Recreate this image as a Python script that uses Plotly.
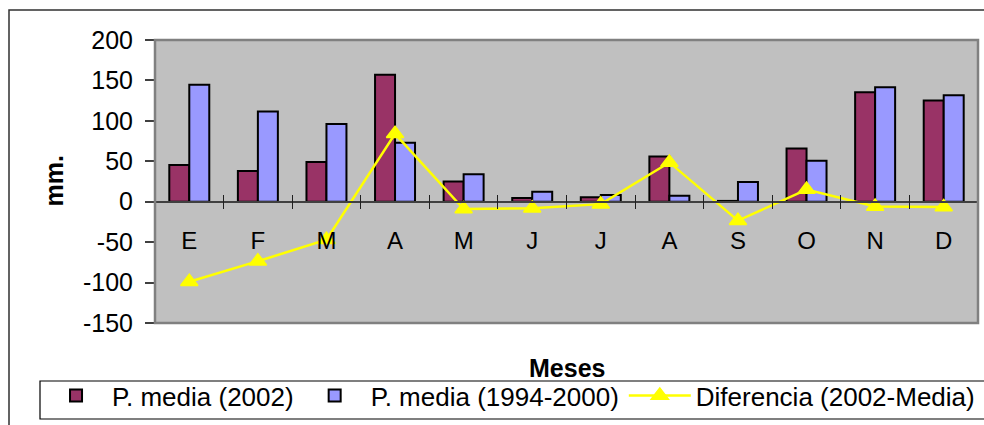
import plotly.graph_objects as go

# Monthly precipitation (mm)
meses = ["E", "F", "M", "A", "M", "J", "J", "A", "S", "O", "N", "D"]
p_2002 = [45.5, 38, 49, 157, 25, 4.5, 5.4, 56, 1, 65.7, 135.5, 125.2]
p_media = [144.6, 111.6, 96, 73, 34, 12.4, 8.3, 7.4, 24.4, 50.8, 141.7, 131.8]
diferencia = [-99, -73.6, -47, 84, -9, -8, -3, 48.6, -23.4, 15, -6, -6.6]

y_ticks = [-150, -100, -50, 0, 50, 100, 150, 200]
y_min, y_max = -150, 200

FONT = "Arial, Liberation Sans, sans-serif"
idx = list(range(len(meses)))
bounds = [i - 0.5 for i in range(len(meses) + 1)]
zero_pos = (0 - y_min) / (y_max - y_min)

fig = go.Figure()
fig.add_trace(go.Bar(
    x=idx, y=p_2002, name="P. media (2002)",
    marker=dict(color="#993366", line=dict(color="black", width=2)),
))
fig.add_trace(go.Bar(
    x=idx, y=p_media, name="P. media (1994-2000)",
    marker=dict(color="#9999FF", line=dict(color="black", width=2)),
))
fig.add_trace(go.Scatter(
    x=idx, y=diferencia, name="Diferencia (2002-Media)",
    mode="lines+markers",
    line=dict(color="#FFFF00", width=2.5),
    marker=dict(symbol="triangle-up", size=15, color="#FFFF00",
                line=dict(color="#FFFF00", width=1.5)),
))

xr = [-0.5, len(meses) - 0.5]
fig.update_layout(
    width=984, height=425,
    margin=dict(l=155, r=6, t=40, b=102, autoexpand=False),
    paper_bgcolor="white",
    plot_bgcolor="#C0C0C0",
    barmode="group", bargap=0.417, bargroupgap=0,
    font=dict(family=FONT, size=24, color="black"),
    showlegend=True,
    legend=dict(
        orientation="h", x=-0.1397, y=(323 - 372) / 283,
        xanchor="left", yanchor="top",
        borderwidth=0, bgcolor="rgba(0,0,0,0)",
        font=dict(family=FONT, size=26, color="black"),
        traceorder="normal", tracegroupgap=0, itemwidth=62,
    ),
    # zero line with category boundary ticks (downward part)
    xaxis=dict(
        range=xr, anchor="free", position=zero_pos,
        showline=True, linecolor="#404040", linewidth=1.5,
        tickmode="array", tickvals=bounds, showticklabels=False,
        ticks="outside", ticklen=7, tickcolor="#202020", tickwidth=1,
        showgrid=False, zeroline=False,
    ),
    # upward part of the boundary ticks
    xaxis2=dict(
        range=xr, overlaying="x", anchor="free", position=zero_pos,
        showline=False, tickmode="array", tickvals=bounds,
        showticklabels=False, ticks="inside", ticklen=7,
        tickcolor="#202020", tickwidth=1, showgrid=False, zeroline=False,
    ),
    # month letters below the zero line
    xaxis3=dict(
        range=xr, overlaying="x", anchor="free", position=zero_pos,
        showline=False, tickmode="array", tickvals=idx, ticktext=meses,
        ticks="", ticklabelstandoff=22, showgrid=False, zeroline=False,
        tickfont=dict(family=FONT, size=24, color="black"),
    ),
    yaxis=dict(
        range=[y_min, y_max], tickmode="array", tickvals=y_ticks,
        ticktext=[str(v) for v in y_ticks],
        ticks="outside", ticklen=9, tickcolor="#404040", tickwidth=1.5,
        ticklabelstandoff=7,
        showline=False, showgrid=False, zeroline=False,
        tickfont=dict(family=FONT, size=25, color="black"),
    ),
    annotations=[
        dict(text="<b>mm.</b>", xref="paper", yref="paper",
             x=(53 - 155) / 823, y=0.5, xanchor="center", yanchor="middle",
             textangle=-90, showarrow=False,
             font=dict(family=FONT, size=25, color="black")),
        dict(text="<b>Meses</b>", xref="paper", yref="paper",
             x=0.5, y=(323 - 368) / 283, xanchor="center", yanchor="middle",
             showarrow=False,
             font=dict(family=FONT, size=25, color="black")),
    ],
    shapes=[
        # plot area frame
        dict(type="rect", xref="paper", yref="paper", x0=0, x1=1, y0=0, y1=1,
             line=dict(color="#808080", width=2.5), layer="above"),
        # chart frame
        dict(type="rect", xref="paper", yref="paper",
             x0=(9 - 155) / 823, x1=1.2, y0=-0.6, y1=(323 - 10) / 283,
             line=dict(color="#303030", width=1.5), layer="below"),
        # legend frame
        dict(type="rect", xref="paper", yref="paper",
             x0=(40 - 155) / 823, x1=1.1, y0=(323 - 419) / 283,
             y1=(323 - 381) / 283,
             line=dict(color="black", width=1.2), fillcolor="white",
             layer="below"),
    ],
)
# invisible carriers so the overlay axes are drawn
fig.add_trace(go.Scatter(x=[None], y=[None], xaxis="x2", showlegend=False, hoverinfo="skip"))
fig.add_trace(go.Scatter(x=[None], y=[None], xaxis="x3", showlegend=False, hoverinfo="skip"))

fig.write_html("out.html")
